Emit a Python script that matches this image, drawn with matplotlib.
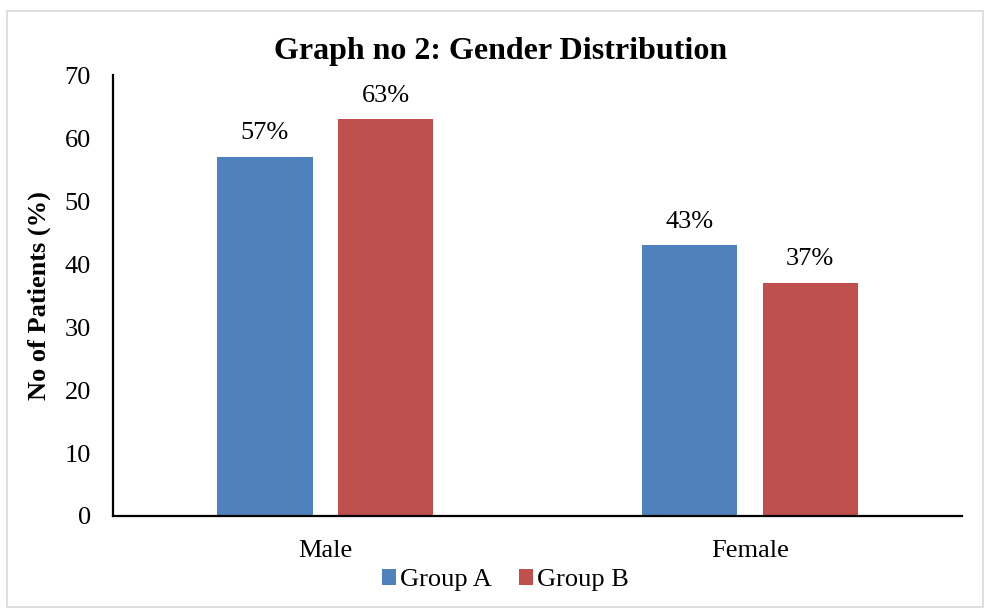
import matplotlib
matplotlib.use("Agg")
import matplotlib.pyplot as plt
from matplotlib.patches import Rectangle
import numpy as np

categories = ["Male", "Female"]
group_a = [57, 43]
group_b = [63, 37]
series_names = ["Group A", "Group B"]
colors = ["#4F81BD", "#C0504D"]

plt.rcParams["font.family"] = ["Liberation Serif", "DejaVu Serif"]

fig = plt.figure(figsize=(9.87, 6.10), dpi=100)
ax = fig.add_axes([0.1145, 0.1541, 0.8602, 0.7229])

# light grey frame around the whole chart
fig.patches.append(Rectangle((0.007, 0.005), 0.989, 0.977, transform=fig.transFigure,
                             fill=False, edgecolor="#D9D9D9", linewidth=1.2))

x = np.arange(len(categories))
width = 0.224
offset = 0.142
for vals, name, col, off in [(group_a, series_names[0], colors[0], -offset),
                             (group_b, series_names[1], colors[1], offset)]:
    bars = ax.bar(x + off, vals, width, color=col, label=name)
    for b, v in zip(bars, vals):
        ax.annotate(f"{v}%", (b.get_x() + b.get_width() / 2, v),
                    xytext=(0, 9), textcoords="offset points",
                    ha="center", va="bottom", fontsize=19)

ax.set_xlim(-0.5, 1.5)
ax.set_ylim(0, 70)
ax.set_yticks(range(0, 71, 10))
ax.set_xticks(x)
ax.set_xticklabels(categories)
ax.tick_params(axis="both", length=0, labelsize=19)
ax.tick_params(axis="y", pad=16)
ax.tick_params(axis="x", pad=17)
for s in ["top", "right"]:
    ax.spines[s].set_visible(False)
for s in ["left", "bottom"]:
    ax.spines[s].set_linewidth(1.6)

ax.set_ylabel("No of Patients (%)", fontsize=19, fontweight="bold", labelpad=10)
fig.suptitle("Graph no 2: Gender Distribution", fontsize=23, fontweight="bold",
             x=0.507, y=0.94)

fig.legend(loc="center", bbox_to_anchor=(0.512, 0.049), ncol=2, frameon=False,
           fontsize=19, handlelength=0.55, handleheight=0.55, handletextpad=0.15,
           columnspacing=1.0)

fig.savefig("out.png", dpi=100)
